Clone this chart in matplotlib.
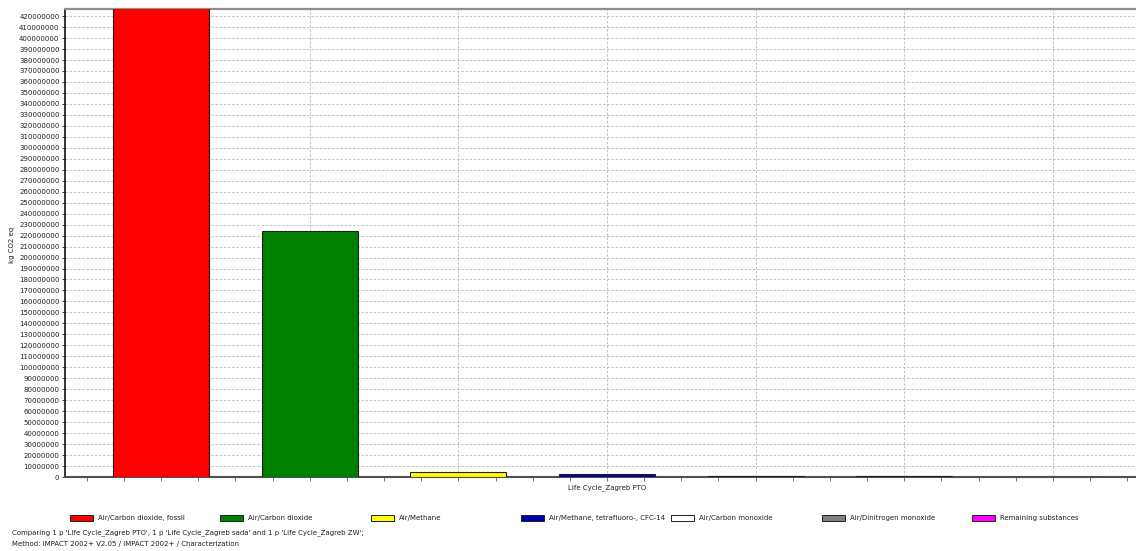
import matplotlib
matplotlib.use("Agg")
import matplotlib.pyplot as plt
from matplotlib.patches import Rectangle
from matplotlib.ticker import MultipleLocator, FuncFormatter
import numpy as np

substances = ["Air/Carbon dioxide, fossil", "Air/Carbon dioxide", "Air/Methane",
              "Air/Methane, tetrafluoro-, CFC-14", "Air/Carbon monoxide",
              "Air/Dinitrogen monoxide", "Remaining substances"]
values = [432000000, 224000000, 4200000, 2600000, 1000000, 1000000, 0]
colors = ["#FF0000", "#008000", "#FFFF00", "#0000B0", "#FFFFFF", "#808080", "#FF00FF"]
group_label = "Life Cycle_Zagreb PTO"
y_label = "kg CO2 eq"
footnote = ["Comparing 1 p 'Life Cycle_Zagreb PTO', 1 p 'Life Cycle_Zagreb sada' and 1 p 'Life Cycle_Zagreb ZW';",
            "Method: IMPACT 2002+ V2.05 / IMPACT 2002+ / Characterization"]

W, H = 1136, 551
plt.rcParams['font.family'] = ['DejaVu Sans']
fig = plt.figure(figsize=(W / 100, H / 100), dpi=100)
fig.patch.set_facecolor("white")

ax_left, ax_right, ax_top, ax_bottom = 65, 1149, 9, 477
ax = fig.add_axes([ax_left / W, 1 - ax_bottom / H, (ax_right - ax_left) / W, (ax_bottom - ax_top) / H])

x = np.arange(len(substances))
ax.bar(x, values, width=0.646, color=colors, edgecolor="#202020", linewidth=0.8, zorder=3)
ax.set_xlim(-0.646, len(substances) - 1 + 0.646)
ax.set_ylim(0, 426500000)

ax.yaxis.set_major_locator(MultipleLocator(10000000))
ax.yaxis.set_major_formatter(FuncFormatter(lambda v, p: f"{int(round(v))}"))
ax.set_xticks(x)
ax.set_xticklabels([""] * len(x))
ax.set_xticks(np.arange(-0.5, len(x) - 0.4, 0.25), minor=True)

ax.grid(axis="y", which="major", color="#B8B8B8", linestyle=(0, (3, 2)), linewidth=0.6, zorder=0)
ax.grid(axis="x", which="major", color="#B8B8B8", linestyle=(0, (3, 2)), linewidth=0.6, zorder=0)

ax.tick_params(axis="y", labelsize=5, length=2, width=0.6, pad=2, colors="#202020")
ax.tick_params(axis="x", which="both", length=3, width=0.6, color="#606060")
ax.tick_params(axis="x", which="major", length=3)

for s in ["left"]:
    ax.spines[s].set_color("#101010")
    ax.spines[s].set_linewidth(1.2)
ax.spines["bottom"].set_color("#505050")
ax.spines["bottom"].set_linewidth(1.5)
ax.spines["top"].set_color("#909090")
ax.spines["top"].set_linewidth(1.6)
ax.spines["right"].set_visible(False)

fig.text(((ax_left + ax_right) / 2) / W, 1 - 488 / H, group_label, fontsize=5,
         ha="center", va="center", color="#202020")
fig.text(12 / W, 1 - 245 / H, y_label, fontsize=5, rotation=90, ha="center", va="center",
         color="#202020")

# legend
leg_y = 518
for i, (name, col) in enumerate(zip(substances, colors)):
    x0 = 70 + i * 150.3
    rect = Rectangle((x0 / W, 1 - (leg_y + 3) / H), 23 / W, 6 / H, transform=fig.transFigure,
                     facecolor=col, edgecolor="#202020", linewidth=0.7)
    fig.patches.append(rect)
    fig.text((x0 + 28) / W, 1 - leg_y / H, name, fontsize=5, ha="left", va="center",
             color="#202020")

fig.text(12 / W, 1 - 533 / H, footnote[0], fontsize=5, ha="left", va="center", color="#202020")
fig.text(12 / W, 1 - 544 / H, footnote[1], fontsize=5, ha="left", va="center", color="#202020")

fig.savefig("out.png", dpi=100)
